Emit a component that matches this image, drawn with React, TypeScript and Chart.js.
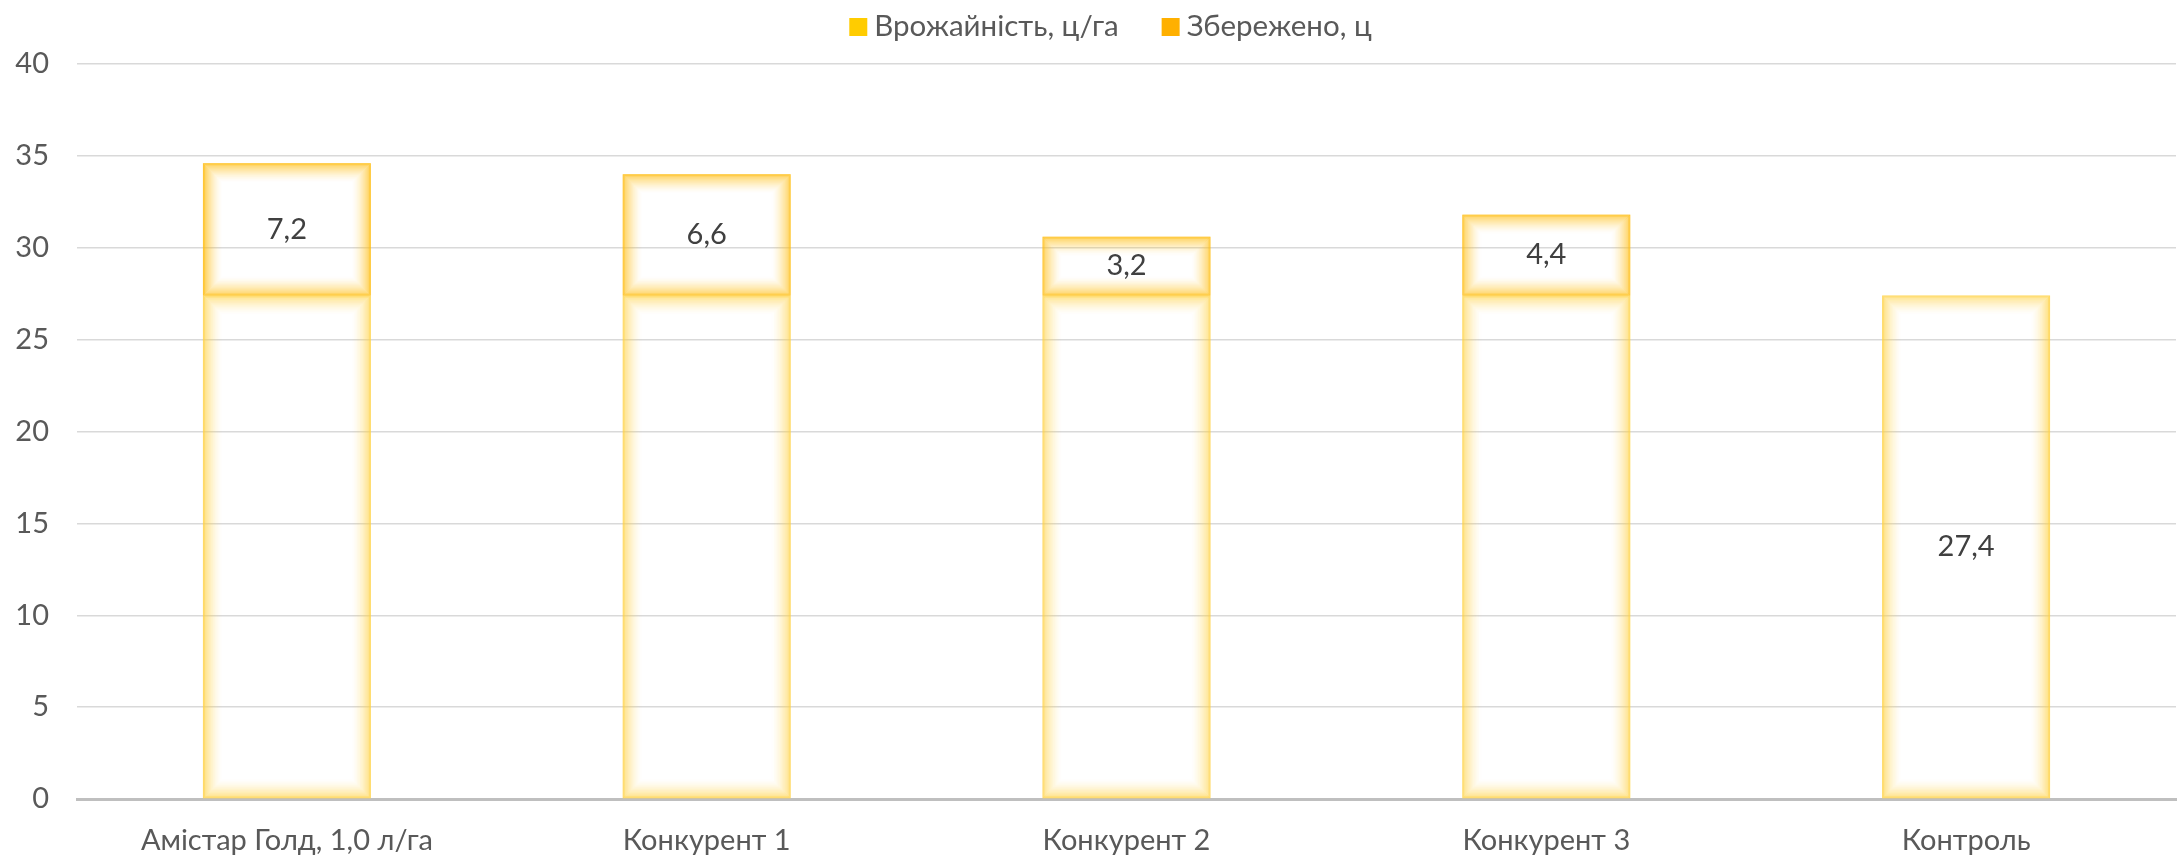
import React, { useEffect, useRef } from "react";
import { Chart, registerables } from "chart.js";

Chart.register(...registerables);

const categories = ["Амістар Голд, 1,0 л/га", "Конкурент 1", "Конкурент 2", "Конкурент 3", "Контроль"];
const yieldValues = [27.4, 27.4, 27.4, 27.4, 27.4];
const savedValues = [7.2, 6.6, 3.2, 4.4, 0];
const yieldLabelShown = [false, false, false, false, true];
const seriesNames = ["Врожайність, ц/га", "Збережено, ц"];
const yMax = 40;
const yStep = 5;

const FONT = "Lato, 'Open Sans', sans-serif";
const TEXT = "#595959";

const glowColors = [
  [255, 210, 70],
  [255, 190, 20],
];
const glowAlpha = [0.75, 0.8];
const legendColors = ["#FFCC00", "#FFB000"];

function drawGlow(ctx: CanvasRenderingContext2D, l: number, t: number, r: number, b: number, rgb: number[], depth: number, maxA: number) {
  const w = r - l;
  const h = b - t;
  const d = Math.min(depth, Math.floor(Math.min(w, h) / 2));
  for (let i = 0; i < d; i++) {
    const a = maxA * Math.pow(1 - i / d, 1.8);
    ctx.strokeStyle = `rgba(${rgb[0]},${rgb[1]},${rgb[2]},${a})`;
    ctx.lineWidth = 1;
    ctx.strokeRect(l + i + 0.5, t + i + 0.5, w - 2 * i - 1, h - 2 * i - 1);
  }
}

const glowPlugin = {
  id: "glowBars",
  afterDatasetsDraw(chart: any) {
    const ctx = chart.ctx as CanvasRenderingContext2D;
    ctx.save();
    chart.data.datasets.forEach((ds: any, di: number) => {
      const meta = chart.getDatasetMeta(di);
      meta.data.forEach((el: any, i: number) => {
        const v = ds.data[i];
        if (!v) return;
        const l = el.x - el.width / 2;
        const r = el.x + el.width / 2;
        const t = Math.min(el.y, el.base);
        const b = Math.max(el.y, el.base);
        drawGlow(ctx, l, t, r, b, glowColors[di], 20, glowAlpha[di]);
        ctx.strokeStyle = `rgba(${glowColors[di][0]},${glowColors[di][1]},${glowColors[di][2]},0.35)`;
        ctx.lineWidth = 2;
        ctx.strokeRect(l + 1, t + 1, r - l - 2, b - t - 2);
      });
    });
    ctx.fillStyle = "#404040";
    ctx.font = `29px ${FONT}`;
    ctx.textAlign = "center";
    ctx.textBaseline = "middle";
    chart.data.datasets.forEach((ds: any, di: number) => {
      const meta = chart.getDatasetMeta(di);
      meta.data.forEach((el: any, i: number) => {
        const v = ds.data[i];
        if (!v) return;
        if (di === 0 && !yieldLabelShown[i]) return;
        const cy = (el.y + el.base) / 2;
        ctx.fillText(String(v).replace(".", ","), el.x, cy);
      });
    });
    ctx.restore();
  },
};

const legendPlugin = {
  id: "customLegend",
  afterDraw(chart: any) {
    const ctx = chart.ctx as CanvasRenderingContext2D;
    ctx.save();
    ctx.font = `29.5px ${FONT}`;
    const box = 18;
    const gap = 7;
    const spacing = 43;
    const widths = seriesNames.map((n) => ctx.measureText(n).width);
    const total = widths.reduce((a, w) => a + box + gap + w, 0) + spacing * (seriesNames.length - 1);
    const area = chart.chartArea;
    const center = (area.left + area.right) / 2 - 16;
    let x = center - total / 2;
    const cy = 26;
    ctx.textBaseline = "middle";
    ctx.textAlign = "left";
    seriesNames.forEach((n, i) => {
      ctx.fillStyle = legendColors[i];
      ctx.fillRect(x, cy - box / 2 + 1, box, box);
      x += box + gap;
      ctx.fillStyle = TEXT;
      ctx.fillText(n, x, cy);
      x += widths[i] + spacing;
    });
    ctx.restore();
  },
};

export default function App() {
  const ref = useRef<HTMLCanvasElement>(null);
  useEffect(() => {
    document.body.style.margin = "0";
    const chart = new Chart(ref.current!, {
      type: "bar",
      data: {
        labels: categories,
        datasets: [
          {
            label: seriesNames[0],
            data: yieldValues,
            backgroundColor: "rgba(0,0,0,0)",
            borderWidth: 0,
            stack: "s",
          },
          {
            label: seriesNames[1],
            data: savedValues,
            backgroundColor: "rgba(0,0,0,0)",
            borderWidth: 0,
            stack: "s",
          },
        ],
      },
      options: {
        animation: false,
        responsive: false,
        maintainAspectRatio: false,
        datasets: { bar: { categoryPercentage: 1, barPercentage: 0.4 } },
        layout: { padding: { left: 0, right: 2, top: 64, bottom: 0 } },
        plugins: {
          tooltip: { enabled: false },
          legend: { display: false },
        },
        scales: {
          x: {
            stacked: true,
            grid: { display: false },
            border: { display: true, color: "#BFBFBF", width: 3 },
            ticks: { font: { family: FONT, size: 29 }, color: TEXT, padding: 16 },
            afterFit: (s: any) => {
              s.height = 57;
            },
          },
          y: {
            stacked: true,
            min: 0,
            max: yMax,
            ticks: { stepSize: yStep, font: { family: FONT, size: 29 }, color: TEXT, padding: 28 },
            grid: { color: "#D9D9D9", lineWidth: 1.5, drawTicks: false },
            border: { display: false },
            afterFit: (s: any) => {
              s.width = 77;
            },
          },
        },
      },
      plugins: [glowPlugin, legendPlugin],
    });
    return () => chart.destroy();
  }, []);
  return <canvas ref={ref} width={2178} height={856} style={{ display: "block" }} />;
}
